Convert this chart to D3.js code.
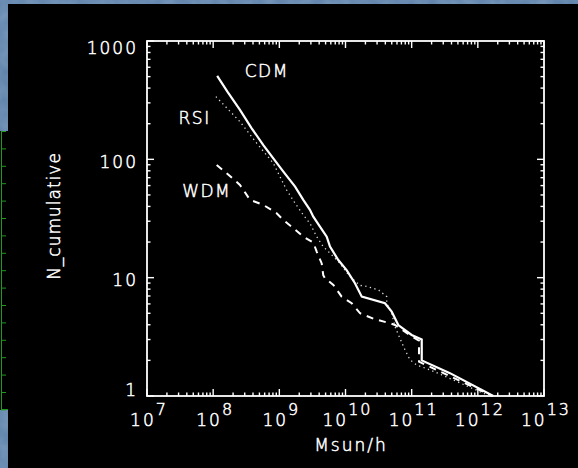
<!DOCTYPE html>
<meta charset="utf-8">
<style>
  body { margin: 0; background: #5b7fa8; }
  text { font-family: "DejaVu Sans", sans-serif; font-weight: 200; fill: #ffffff;
         stroke: #ffffff; stroke-width: 0.5px; }
  .tick-label { font-size: 17px; letter-spacing: 2px; }
  .frame, .tick { stroke: #ffffff; fill: none; }
</style>
<body>
<svg id="chart" width="578" height="468"></svg>
<script src="https://cdnjs.cloudflare.com/ajax/libs/d3/7.8.5/d3.min.js"></script>
<script>
// halo mass (Msun/h) and cumulative counts
var cdmM = [1.15e8, 1.64e8, 2.54e8, 3.82e8, 5.73e8, 8.11e8, 1.15e9, 1.73e9, 2.30e9, 2.90e9,
            3.26e9, 4.11e9, 5.20e9, 5.83e9, 7.78e9, 1.04e10, 1.39e10, 1.76e10, 3.95e10, 4.99e10,
            6.28e10, 1.00e11, 1.42e11, 1.42e11, 3.79e11, 1.71e12];
var cdmN = [507, 373, 262, 183, 132, 102, 78.7, 58.8, 45.4, 37.4,
            32.8, 27.0, 22.2, 18.3, 14.1, 11.6, 8.97, 6.91, 6.08, 5.16,
            3.98, 3.28, 3.0, 2.0, 1.56, 1.0];

var rsiM = [1.10e8, 2.54e8, 4.55e8, 8.11e8, 1.29e9, 1.73e9, 2.30e9, 2.90e9, 3.67e9, 4.61e9,
            5.83e9, 7.78e9, 1.17e10, 1.66e10, 1.97e10, 3.13e10, 4.20e10, 4.20e10, 4.99e10, 5.60e10,
            6.65e10, 7.93e10, 9.44e10, 1.19e11, 1.89e11, 2.84e11, 1.51e12];
var rsiN = [339, 208, 137, 92.7, 55, 42.6, 33.9, 28.8, 22.2, 18.3,
            16.1, 13.7, 10.2, 8.6, 8.5, 7.9, 6.91, 6.08, 5.0, 3.85,
            3.07, 2.45, 2.02, 1.83, 1.66, 1.51, 1.0];

var wdmM = [1.13e8, 1.60e8, 2.54e8, 3.61e8, 5.73e8, 9.12e8, 1.15e9, 1.63e9, 2.30e9, 3.26e9,
            3.67e9, 4.37e9, 4.61e9, 4.90e9, 6.55e9, 8.75e9, 1.24e10, 1.66e10, 2.79e10, 4.70e10,
            5.60e10, 1.00e11, 1.29e11, 1.29e11, 1.66e12];
var wdmN = [89.7, 76.3, 60.8, 45.4, 41.2, 35.0, 30.7, 26.2, 22.2, 19.8,
            16.6, 13.2, 10.5, 9.9, 8.68, 6.91, 6.08, 5.0, 4.45, 4.12,
            3.98, 3.2, 2.93, 1.95, 1.0];

var xTickExp = [7, 8, 9, 10, 11, 12, 13];
var yTicks = [1, 10, 100, 1000];
var yTickLabels = ["1", "10", "100", "1000"];

// curve labels placed in data units
var labelText = ["CDM", "RSI", "WDM"];
var labelM = [3e8, 3e7, 3.4e7];
var labelN = [500, 200, 48];

var svg = d3.select("#chart");

// slide background bits
var defs = svg.append("defs");
var f = defs.append("filter").attr("id", "mottle");
f.append("feTurbulence").attr("type", "fractalNoise").attr("baseFrequency", 0.08).attr("numOctaves", 2).attr("seed", 3);
f.append("feColorMatrix").attr("values", "0 0 0 0 0.55  0 0 0 0 0.68  0 0 0 0 0.82  0 0 0 0.5 0");
svg.append("rect").attr("width", 578).attr("height", 468).attr("fill", "#5b7fa8");
svg.append("rect").attr("width", 578).attr("height", 468).attr("filter", "url(#mottle)").attr("opacity", 0.6);
svg.append("rect").attr("x", 8).attr("y", 4).attr("width", 570).attr("height", 464).attr("fill", "#000");
svg.append("rect").attr("x", 0).attr("y", 131).attr("width", 8).attr("height", 279).attr("fill", "#000");

// green ruler on the far left
var g0 = svg.append("g").attr("stroke", "#1f9a1f").attr("stroke-width", 1);
g0.append("line").attr("x1", 1.5).attr("x2", 1.5).attr("y1", 131).attr("y2", 410);
d3.range(131.5, 411, 17.4).forEach(function(y) {
  g0.append("line").attr("x1", 1).attr("x2", 6).attr("y1", y).attr("y2", y);
});
g0.append("line").attr("x1", 1).attr("x2", 8).attr("y1", 409.5).attr("y2", 409.5);

var x = d3.scaleLog().domain([1e7, 1e13]).range([147, 544]);
var y = d3.scaleLog().domain([1, 1000]).range([396, 41]);

// frame
svg.append("rect").attr("class", "frame")
  .attr("x", x(1e7)).attr("y", y(1000))
  .attr("width", x(1e13) - x(1e7)).attr("height", y(1) - y(1000))
  .attr("stroke-width", 1.8);

// ticks on all four sides
var xMinor = [], yMinor = [];
xTickExp.slice(0, -1).forEach(function(e) {
  for (var k = 2; k < 10; k++) xMinor.push(k * Math.pow(10, e));
});
yTicks.slice(0, -1).forEach(function(v) {
  for (var k = 2; k < 10; k++) yMinor.push(k * v);
});
var tg = svg.append("g").attr("class", "tick").attr("stroke-width", 1.4);
function tickX(v, len) {
  tg.append("line").attr("x1", x(v)).attr("x2", x(v)).attr("y1", y(1)).attr("y2", y(1) - len);
  tg.append("line").attr("x1", x(v)).attr("x2", x(v)).attr("y1", y(1000)).attr("y2", y(1000) + len);
}
function tickY(v, len) {
  tg.append("line").attr("y1", y(v)).attr("y2", y(v)).attr("x1", x(1e7)).attr("x2", x(1e7) + len);
  tg.append("line").attr("y1", y(v)).attr("y2", y(v)).attr("x1", x(1e13)).attr("x2", x(1e13) - len);
}
xMinor.forEach(function(v) { tickX(v, 3.5); });
xTickExp.forEach(function(e) { tickX(Math.pow(10, e), 7); });
yMinor.forEach(function(v) { tickY(v, 3.5); });
yTicks.forEach(function(v) { tickY(v, 7); });

// x tick labels 10^n
xTickExp.forEach(function(e) {
  var t = svg.append("text").attr("class", "tick-label")
    .attr("x", x(Math.pow(10, e)) + 2).attr("y", 426)
    .attr("text-anchor", "middle");
  t.append("tspan").text("10");
  t.append("tspan").attr("dy", -11).attr("font-size", 16).text(String(e));
});

// y tick labels, kept inside the axis range like IDL does
yTicks.forEach(function(v, i) {
  var yy = Math.max(y(1000) + 13, Math.min(y(1) - 0.5, y(v) + 8.5));
  svg.append("text").attr("class", "tick-label")
    .attr("x", 138).attr("y", yy).attr("text-anchor", "end")
    .text(yTickLabels[i]);
});

// axis titles
svg.append("text").attr("x", 351).attr("y", 451).attr("text-anchor", "middle")
  .attr("font-size", 17).attr("letter-spacing", 2).text("Msun/h");
svg.append("text").attr("transform", "translate(60,216) rotate(-90)")
  .attr("text-anchor", "middle").attr("font-size", 17).attr("letter-spacing", 1)
  .text("N_cumulative");

// curves
var line = d3.line().x(function(d) { return x(d[0]); }).y(function(d) { return y(d[1]); });
function pairs(m, n) { return m.map(function(v, i) { return [v, n[i]]; }); }

svg.append("path").datum(pairs(rsiM, rsiN)).attr("d", line)
  .attr("fill", "none").attr("stroke", "#d8d8d8").attr("stroke-width", 1.3)
  .attr("stroke-dasharray", "1.3,3.4");
svg.append("path").datum(pairs(wdmM, wdmN)).attr("d", line)
  .attr("fill", "none").attr("stroke", "#fff").attr("stroke-width", 2)
  .attr("stroke-dasharray", "7,6");
svg.append("path").datum(pairs(cdmM, cdmN)).attr("d", line)
  .attr("fill", "none").attr("stroke", "#fff").attr("stroke-width", 2.2);

labelText.forEach(function(s, i) {
  svg.append("text").attr("x", x(labelM[i])).attr("y", y(labelN[i]))
    .attr("font-size", 17).attr("letter-spacing", 1.5).text(s);
});
</script>
</body>
